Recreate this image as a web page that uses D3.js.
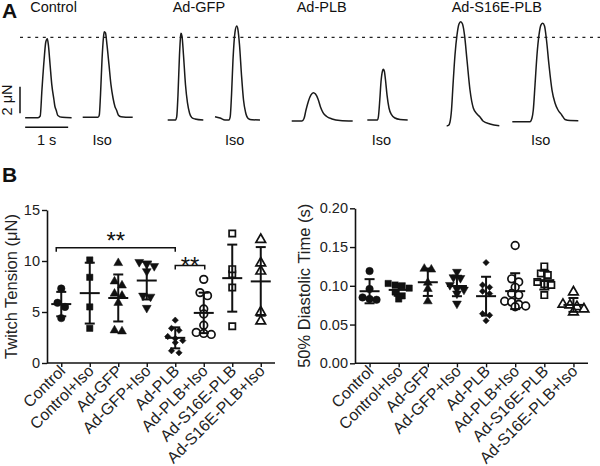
<!DOCTYPE html>
<html><head><meta charset="utf-8">
<script src="https://cdn.jsdelivr.net/npm/d3@7"></script>
<style>
body{margin:0;background:#fff;}
svg{display:block;font-family:Arial,"Liberation Sans",Helvetica,sans-serif;}
</style></head><body>
<svg id="chart" width="600" height="466"></svg>
<script>
// ---------------- DATA ----------------
const categories = ["Control","Control+Iso","Ad-GFP","Ad-GFP+Iso","Ad-PLB","Ad-PLB+Iso","Ad-S16E-PLB","Ad-S16E-PLB+Iso"];

// Twitch tension (µN), one array per group
const tensionControl      = [7.3, 5.9, 5.5, 4.4];
const tensionControlIso   = [10.1, 8.4, 5.5, 3.4];
const tensionGFP          = [9.8, 8.0, 7.6, 6.8, 6.6, 5.9, 3.1, 3.2];
const tensionGFPIso       = [9.9, 9.7, 9.5, 9.0, 6.6, 6.5, 5.4];
const tensionPLB          = [4.2, 3.2, 3.4, 2.6, 2.4, 2.2, 1.0, 1.2, 2.0];
const tensionPLBIso       = [8.2, 6.9, 6.6, 5.3, 4.8, 3.7, 2.9, 2.8, 3.0];
const tensionS16E         = [12.7, 8.7, 9.2, 7.4, 3.6];
const tensionS16EIso      = [12.1, 9.8, 9.0, 5.0, 4.1];

// 50% diastolic time (s)
const diastControl    = [0.119, 0.096, 0.083, 0.082, 0.085];
const diastControlIso = [0.103, 0.101, 0.100, 0.097, 0.092, 0.087, 0.083];
const diastGFP        = [0.122, 0.121, 0.104, 0.096, 0.080];
const diastGFPIso     = [0.110, 0.111, 0.118, 0.101, 0.096, 0.095, 0.090, 0.077];
const diastPLB        = [0.130, 0.098, 0.101, 0.093, 0.090, 0.064, 0.062, 0.055];
const diastPLBIso     = [0.152, 0.109, 0.105, 0.098, 0.090, 0.088, 0.080, 0.079, 0.076, 0.074, 0.073];
const diastS16E       = [0.125, 0.116, 0.114, 0.105, 0.102, 0.101, 0.088];
const diastS16EIso    = [0.092, 0.076, 0.075, 0.073, 0.070, 0.066];

const tensionTicks = [0, 5, 10, 15];
const diastTicks = [0.00, 0.05, 0.10, 0.15, 0.20];

// Significance brackets: [fromCategory, toCategory, level(µN), label]
const sigBrackets = [["Control","Ad-PLB",11.3,"**"],["Ad-PLB","Ad-PLB+Iso",9.55,"**"]];

// Panel A: representative twitch traces [time (s), force (µN)] on a montage time axis
const traceControl = [[0.12,0.62],[0.42,0.62],[0.47,0.75],[0.51,2.7],[0.56,4.95],[0.6,6.3],[0.635,6.55],[0.66,6.08],[0.7,4.58],[0.74,3.08],[0.79,1.95],[0.81,1.5],[0.84,1.2],[0.88,0.79],[0.98,0.65],[1.2,0.62]];
const traceControlIso = [[1.458,0.65],[1.814,0.65],[1.844,0.83],[1.872,2.33],[1.907,4.95],[1.942,6.68],[1.96,7.07],[1.988,6.98],[2.023,6.08],[2.07,4.58],[2.116,3.08],[2.163,2.1],[2.209,1.45],[2.244,1.2],[2.286,0.83],[2.349,0.7],[2.621,0.65]];
const traceGFP = [[3.435,0.45],[3.616,0.45],[3.644,0.68],[3.674,2.33],[3.709,5.33],[3.733,6.68],[3.744,6.95],[3.767,6.75],[3.802,5.33],[3.849,3.08],[3.895,1.73],[3.942,0.98],[3.993,0.64],[4.07,0.53],[4.263,0.45]];
const traceGFPIso = [[4.535,0.7],[4.651,0.6],[4.767,0.45],[4.86,0.45],[4.888,0.68],[4.919,2.33],[4.953,4.95],[5.0,7.05],[5.04,7.5],[5.07,7.2],[5.105,6.08],[5.151,3.83],[5.198,1.95],[5.244,1.05],[5.309,0.56],[5.395,0.47],[5.581,0.45]];
const tracePLB = [[6.319,0.375],[6.558,0.375],[6.605,0.56],[6.651,1.2],[6.709,1.88],[6.767,2.33],[6.821,2.5],[6.872,2.4],[6.93,2.03],[6.988,1.43],[7.047,1.01],[7.133,0.71],[7.256,0.53],[7.442,0.41],[7.737,0.375]];
const tracePLBIso = [[8.077,0.45],[8.314,0.45],[8.337,0.75],[8.367,1.95],[8.395,3.3],[8.43,4.13],[8.449,4.25],[8.472,4.13],[8.5,3.45],[8.535,2.33],[8.581,1.35],[8.644,0.83],[8.721,0.6],[8.837,0.49],[9.016,0.45]];
const traceS16E = [[9.923,0.0],[9.965,0.04],[10.0,0.3],[10.035,1.2],[10.07,3.08],[10.116,5.33],[10.163,6.83],[10.209,7.65],[10.249,7.82],[10.291,7.65],[10.337,6.83],[10.395,4.95],[10.465,2.7],[10.542,1.35],[10.628,0.9],[10.698,0.68],[10.767,0.375],[10.93,0.15],[11.147,0.02]];
const traceS16EIso = [[11.449,0.32],[11.86,0.32],[11.907,0.6],[11.937,1.2],[11.977,3.08],[12.023,5.33],[12.07,6.83],[12.116,7.58],[12.156,7.7],[12.198,7.5],[12.244,6.45],[12.302,4.58],[12.372,2.7],[12.442,1.73],[12.512,1.2],[12.598,0.83],[12.674,0.49],[12.791,0.41],[12.984,0.4]];

const traceGroups = ["Control","Ad-GFP","Ad-PLB","Ad-S16E-PLB"];
const referenceLevel = 6.65;   // µN, dashed line
const scaleBarForce = 2;       // µN
const scaleBarTime = 1;        // s

// ---------------- DRAWING ----------------
const svg = d3.select("#chart");
const ink = "#111";

// ---- Panel A ----
const gA = svg.append("g");
const xA = d3.scaleLinear().domain([0, 1]).range([20, 63]);
const yA = d3.scaleLinear().domain([0, 1]).range([126, 126 - 13.33]);
const traceLine = d3.line().x(d => xA(d[0])).y(d => yA(d[1])).curve(d3.curveMonotoneX);

gA.append("line").attr("x1", xA(0)).attr("x2", 600).attr("y1", yA(referenceLevel)).attr("y2", yA(referenceLevel))
  .attr("stroke", "#222").attr("stroke-width", 1.2).attr("stroke-dasharray", "3,4.6");

const traces = [traceControl, traceControlIso, traceGFP, traceGFPIso, tracePLB, tracePLBIso, traceS16E, traceS16EIso];
traces.forEach(tr => {
  gA.append("path").attr("d", traceLine(tr)).attr("fill", "none").attr("stroke", "#1a1a1a").attr("stroke-width", 1.5);
});

traceGroups.forEach((lab, i) => {
  gA.append("text").attr("x", xA(traces[2 * i][0][0]) + 5).attr("y", 12)
    .attr("font-size", 14.5).attr("fill", ink).text(lab);
});
traceGroups.forEach((lab, i) => {
  const tr = traces[2 * i + 1];
  const pk = d3.greatest(tr, d => d[1]);
  gA.append("text").attr("x", xA(pk[0]) - 2).attr("y", 145).attr("text-anchor", "middle")
    .attr("font-size", 14.5).attr("fill", ink).text("Iso");
});
gA.append("line").attr("x1", xA(0)).attr("x2", xA(0)).attr("y1", yA(0.95)).attr("y2", yA(0.95 + scaleBarForce))
  .attr("stroke", ink).attr("stroke-width", 1.5);
gA.append("line").attr("x1", xA(0.12)).attr("x2", xA(0.12 + scaleBarTime)).attr("y1", yA(-0.1)).attr("y2", yA(-0.1))
  .attr("stroke", ink).attr("stroke-width", 1.5);
gA.append("text").attr("transform", `translate(12,${yA(0.95 + scaleBarForce / 2)}) rotate(-90)`)
  .attr("text-anchor", "middle").attr("font-size", 14.5).attr("fill", ink).text("2 μN");
gA.append("text").attr("x", xA(0.12 + scaleBarTime / 2)).attr("y", 145).attr("text-anchor", "middle")
  .attr("font-size", 14.5).attr("fill", ink).text("1 s");

svg.append("text").attr("x", 2).attr("y", 18).attr("font-size", 21).attr("font-weight", "bold").attr("fill", ink).text("A");
svg.append("text").attr("x", 2).attr("y", 182).attr("font-size", 21).attr("font-weight", "bold").attr("fill", ink).text("B");

// ---- Panel B helpers ----
const markerKinds = ["circle","square","triangle","triangleDown","diamond","circleOpen","squareOpen","triangleOpen"];
function markerPath(kind) {
  switch (kind) {
    case "circle": return d3.symbol(d3.symbolCircle, 44)();
    case "square": return d3.symbol(d3.symbolSquare, 40)();
    case "triangle": return d3.symbol(d3.symbolTriangle, 34)();
    case "triangleDown": return d3.symbol(d3.symbolTriangle, 34)();
    case "diamond": return d3.symbol(d3.symbolSquare, 20)();
    case "circleOpen": return d3.symbol(d3.symbolCircle, 46)();
    case "squareOpen": return d3.symbol(d3.symbolSquare, 40)();
    case "triangleOpen": return d3.symbol(d3.symbolTriangle, 40)();
  }
}
function markerRot(kind) { return kind === "triangleDown" ? 180 : (kind === "diamond" ? 45 : 0); }
function isOpen(kind) { return kind.endsWith("Open"); }

function swarmOffsets(vals, y, thr, step) {
  const idx = d3.range(vals.length).sort((a, b) => y(vals[a]) - y(vals[b]));
  const off = new Array(vals.length).fill(0);
  let i = 0;
  while (i < idx.length) {
    let j = i; const y0 = y(vals[idx[i]]);
    while (j + 1 < idx.length && y(vals[idx[j + 1]]) - y0 < thr) j++;
    const n = j - i + 1;
    for (let k = 0; k < n; k++) off[idx[i + k]] = (k - (n - 1) / 2) * step;
    i = j + 1;
  }
  return off;
}

function drawPanel(opts) {
  const g = svg.append("g");
  const x = d3.scalePoint().domain(categories).range(opts.xRange).padding(0.5);
  const y = d3.scaleLinear().domain(opts.yDomain).range(opts.yRange);
  const x0 = opts.xRange[0];

  const ya = g.append("g").attr("transform", `translate(${x0},0)`)
    .call(d3.axisLeft(y).tickValues(opts.ticks).tickFormat(opts.fmt).tickSize(5).tickSizeOuter(0).tickPadding(2));
  const xa = g.append("g").attr("transform", `translate(0,${opts.yRange[0]})`)
    .call(d3.axisBottom(x).tickSize(4).tickSizeOuter(0).tickFormat(""));
  xa.select(".domain").attr("d", `M${x0},0H${opts.xRange[1]}`);
  [ya, xa].forEach(a => {
    a.select(".domain").attr("stroke", ink).attr("stroke-width", 1.6);
    a.selectAll(".tick line").attr("stroke", ink).attr("stroke-width", 1.4);
    a.selectAll(".tick text").attr("font-size", 14.5).attr("fill", "#222").attr("font-family", "Arial, 'Liberation Sans', sans-serif");
  });
  categories.forEach(c => {
    g.append("text").attr("transform", `translate(${x(c) + 5},${opts.yRange[0] + 9}) rotate(-45)`)
      .attr("text-anchor", "end").attr("font-size", 16).attr("fill", "#222").text(c);
  });
  g.append("text").attr("transform", `translate(${opts.labelX},${(opts.yRange[0] + opts.yRange[1]) / 2}) rotate(-90)`)
    .attr("text-anchor", "middle").attr("font-size", 16.5).attr("fill", "#222").text(opts.yLabel);

  opts.series.forEach((vals, i) => {
    const c = categories[i];
    const kind = markerKinds[i];
    const off = swarmOffsets(vals, y, opts.thr, opts.step);
    vals.forEach((v, k) => {
      g.append("path").attr("d", markerPath(kind))
        .attr("transform", `translate(${x(c) + off[k]},${y(v)}) rotate(${markerRot(kind)})`)
        .attr("fill", isOpen(kind) ? "#fff" : ink)
        .attr("stroke", ink).attr("stroke-width", isOpen(kind) ? 1.7 : 0.5);
    });
  });
  opts.series.forEach((vals, i) => {
    const c = categories[i];
    const m = d3.mean(vals), sd = d3.deviation(vals);
    const cx = x(c);
    const bg = g.append("g").attr("stroke", ink).attr("stroke-width", 2);
    bg.append("line").attr("x1", cx).attr("x2", cx).attr("y1", y(m - sd)).attr("y2", y(m + sd));
    bg.append("line").attr("x1", cx - 5).attr("x2", cx + 5).attr("y1", y(m + sd)).attr("y2", y(m + sd));
    bg.append("line").attr("x1", cx - 5).attr("x2", cx + 5).attr("y1", y(m - sd)).attr("y2", y(m - sd));
    bg.append("line").attr("x1", cx - 10).attr("x2", cx + 10).attr("y1", y(m)).attr("y2", y(m));
  });
  return { g, x, y };
}

const left = drawPanel({
  xRange: [47, 275], yDomain: [0, 15], yRange: [363, 210], ticks: tensionTicks, fmt: d3.format("d"),
  series: [tensionControl, tensionControlIso, tensionGFP, tensionGFPIso, tensionPLB, tensionPLBIso, tensionS16E, tensionS16EIso],
  yLabel: "Twitch Tension (μN)", labelX: 17, thr: 5, step: 7.5
});
const right = drawPanel({
  xRange: [355, 588], yDomain: [0, 0.2], yRange: [363.3, 208.3], ticks: diastTicks, fmt: d3.format(".2f"),
  series: [diastControl, diastControlIso, diastGFP, diastGFPIso, diastPLB, diastPLBIso, diastS16E, diastS16EIso],
  yLabel: "50% Diastolic Time (s)", labelX: 310, thr: 5, step: 7
});

sigBrackets.forEach((b, i) => {
  const x1 = left.x(b[0]) - (i === 0 ? 5 : 0), x2 = left.x(b[1]) + (i === 0 ? 0 : 1);
  const yy = left.y(b[2]);
  left.g.append("path").attr("d", `M${x1},${yy + 4}V${yy}H${x2}V${yy + 4}`)
    .attr("fill", "none").attr("stroke", ink).attr("stroke-width", 1.5);
  left.g.append("text").attr("x", (x1 + x2) / 2).attr("y", i === 0 ? yy + 1 : yy + 8)
    .attr("text-anchor", "middle").attr("font-size", 24).attr("fill", ink).text(b[3]);
});
</script>
</body></html>
